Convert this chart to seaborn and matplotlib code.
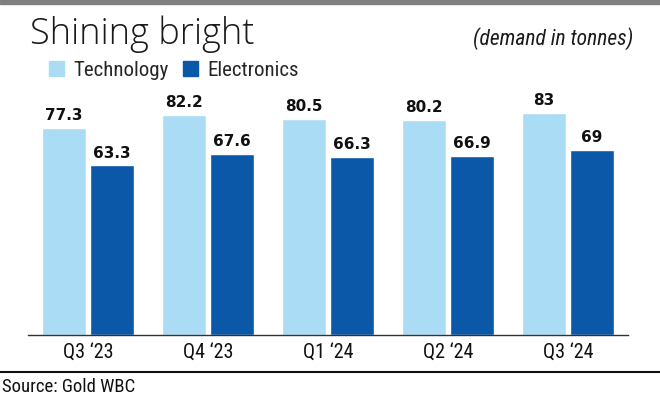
import seaborn as sns
from matplotlib import pyplot as plt
from matplotlib.lines import Line2D
from matplotlib.patches import Rectangle
import pandas as pd

quarters = ["Q3 \u201823", "Q4 \u201823", "Q1 \u201824", "Q2 \u201824", "Q3 \u201824"]
technology = [77.3, 82.2, 80.5, 80.2, 83]
electronics = [63.3, 67.6, 66.3, 66.9, 69]
series = ["Technology", "Electronics"]
colors = ["#abdcf5", "#0b58a8"]

NARROW = ["Liberation Sans Narrow", "Roboto Condensed", "DejaVu Sans"]

sns.set_theme(style="white")
plt.rcParams["font.family"] = ["Open Sans", "DejaVu Sans"]

df = pd.DataFrame({
    "quarter": quarters * 2,
    "series": [series[0]] * len(quarters) + [series[1]] * len(quarters),
    "value": technology + electronics,
})

fig = plt.figure(figsize=(6.6, 3.97), dpi=100)
ax = fig.add_axes([28 / 660, 62 / 397, 600 / 660, 235 / 397])

sns.barplot(data=df, x="quarter", y="value", hue="series", palette=colors,
            width=0.8, gap=0.1, saturation=1, ax=ax, legend=False)

for cont in ax.containers:
    ax.bar_label(cont, fmt="%g", padding=3.5, fontsize=11, fontweight="bold",
                 color="#111111", family=["DejaVu Sans"])

ax.set_xlim(-0.5, len(quarters) - 0.5)
ax.set_ylim(0, 87.7)
ax.set_xlabel("")
ax.set_ylabel("")
ax.set_yticks([])
sns.despine(ax=ax, left=True)
ax.spines["bottom"].set_color("#333333")
ax.spines["bottom"].set_linewidth(1.0)
ax.tick_params(axis="x", length=0, pad=6, labelsize=14.5, colors="#111111")
for lab in ax.get_xticklabels():
    lab.set_family(NARROW)

# header
fig.patches.append(Rectangle((0, 393 / 397), 1, 4 / 397, transform=fig.transFigure,
                             color="#808080", zorder=0))
fig.text(30 / 660, 1 - 44 / 397, "Shining bright", fontsize=26, fontweight="light",
         color="#1a1a1a", va="baseline", ha="left")
fig.text(633 / 660, 1 - 45 / 397, "(demand in tonnes)", fontsize=15.5, style="italic",
         color="#1a1a1a", va="baseline", ha="right", family=NARROW)

handles = [Rectangle((0, 0), 1, 1, color=c) for c in colors]
fig.legend(handles, series, loc="center left", bbox_to_anchor=(49 / 660, 1 - 70 / 397),
           ncol=2, frameon=False, handlelength=0.7, handleheight=0.7,
           handletextpad=0.45, columnspacing=0.7, borderaxespad=0, borderpad=0,
           prop={"family": NARROW, "size": 15})

# source rule
fig.add_artist(Line2D([0, 1], [1 - 372 / 397] * 2, transform=fig.transFigure,
                      color="#111111", linewidth=1.5))
fig.text(2 / 660, 1 - 392 / 397, "Source: Gold WBC", fontsize=13.5, color="#111111",
         va="baseline", ha="left", family=NARROW)

fig.savefig("out.png", dpi=100)
